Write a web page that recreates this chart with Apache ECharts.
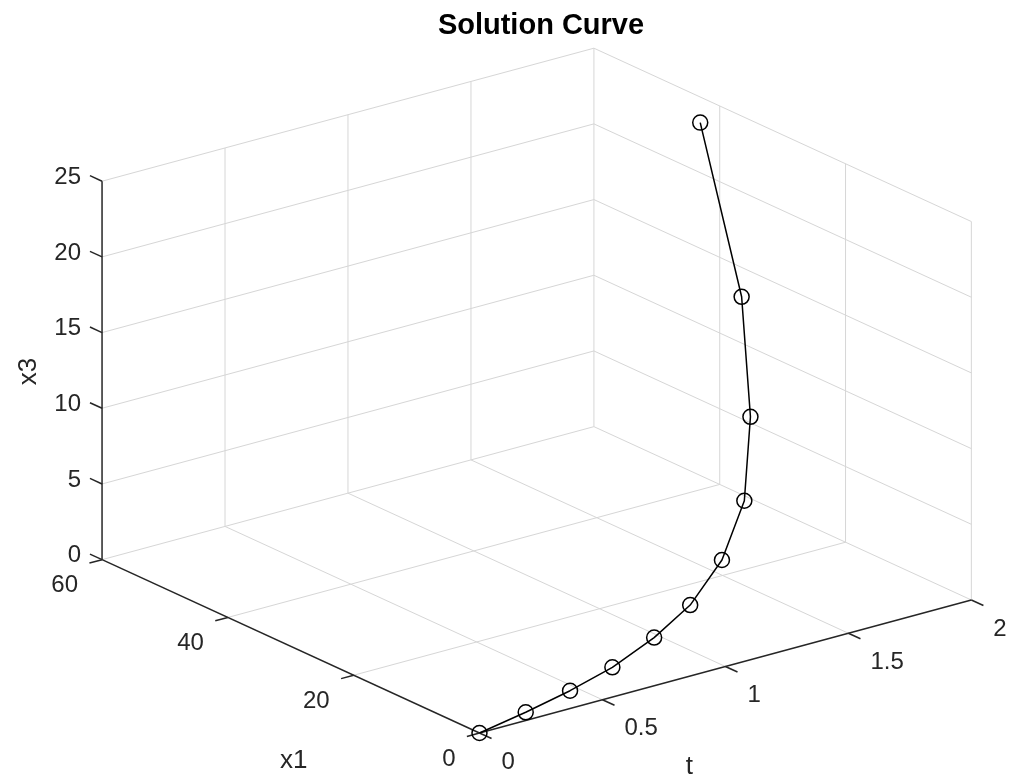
<!DOCTYPE html>
<html>
<head>
<meta charset="utf-8">
<script src="https://cdn.jsdelivr.net/npm/echarts@6/dist/echarts.min.js"></script>
<style>
  html, body { margin: 0; padding: 0; background: #fff; }
  #chart { width: 1013px; height: 784px; }
</style>
</head>
<body>
<div id="chart"></div>
<script>
// ---------------- data ----------------
const tValues  = [0, 0.2, 0.4, 0.6, 0.8, 1.0, 1.2, 1.4, 1.6, 1.8, 2.0];
const x1Values = [0, 0.47, 1.24, 2.33, 3.51, 5.6, 8.37, 12.63, 19.48, 28.7, 43.1];
const x3Values = [0, 0.40, 0.80, 1.26, 2.12, 2.99, 4.56, 6.78, 10.14, 15.43, 23.31];

const tTicks  = [0, 0.5, 1, 1.5, 2];
const x1Ticks = [0, 20, 40, 60];
const x3Ticks = [0, 5, 10, 15, 20, 25];
const tTickLabels  = ['0', '0.5', '1', '1.5', '2'];
const x1TickLabels = ['0', '20', '40', '60'];
const x3TickLabels = ['0', '5', '10', '15', '20', '25'];

const tLim  = [0, 2];
const x1Lim = [0, 60];
const x3Lim = [0, 25];

// ---------------- view (MATLAB-like orthographic 3D view) ----------------
const W = 1013, H = 784;
const VIEW = { az: -37.5, el: 30, cx: 536.7, cy: 390.6, sH: 620, sV: 437 };
const AZ = VIEW.az * Math.PI / 180, EL = VIEW.el * Math.PI / 180;

function proj(t, x1, x3) {
  const u = (t - tLim[0]) / (tLim[1] - tLim[0]) - 0.5;
  const v = (x1 - x1Lim[0]) / (x1Lim[1] - x1Lim[0]) - 0.5;
  const w = (x3 - x3Lim[0]) / (x3Lim[1] - x3Lim[0]) - 0.5;
  const px = Math.cos(AZ) * u + Math.sin(AZ) * v;
  const py = Math.sin(EL) * (-Math.sin(AZ) * u + Math.cos(AZ) * v) + Math.cos(EL) * w;
  return [px, py];
}

const FONT = "'Liberation Sans', Arial, Helvetica, sans-serif";
const GRID_COLOR = '#d6d6d6';
const AXIS_COLOR = '#262626';

// ---------------- build segments ----------------
const gridSegs = [];
// floor (x3 = min)
tTicks.forEach(t => { if (t !== tLim[0]) gridSegs.push([[t, x1Lim[0], x3Lim[0]], [t, x1Lim[1], x3Lim[0]]]); });
x1Ticks.forEach(x => { if (x !== x1Lim[0]) gridSegs.push([[tLim[0], x, x3Lim[0]], [tLim[1], x, x3Lim[0]]]); });
// back-left wall (x1 = max)
tTicks.forEach(t => { if (t !== tLim[0]) gridSegs.push([[t, x1Lim[1], x3Lim[0]], [t, x1Lim[1], x3Lim[1]]]); });
x3Ticks.forEach(z => { if (z !== x3Lim[0]) gridSegs.push([[tLim[0], x1Lim[1], z], [tLim[1], x1Lim[1], z]]); });
// back-right wall (t = max)
x1Ticks.forEach(x => { if (x !== x1Lim[1]) gridSegs.push([[tLim[1], x, x3Lim[0]], [tLim[1], x, x3Lim[1]]]); });
x3Ticks.forEach(z => { if (z !== x3Lim[0]) gridSegs.push([[tLim[1], x1Lim[0], z], [tLim[1], x1Lim[1], z]]); });

const axisSegs = [
  [[tLim[0], x1Lim[0], x3Lim[0]], [tLim[1], x1Lim[0], x3Lim[0]]],
  [[tLim[0], x1Lim[0], x3Lim[0]], [tLim[0], x1Lim[1], x3Lim[0]]],
  [[tLim[0], x1Lim[1], x3Lim[0]], [tLim[0], x1Lim[1], x3Lim[1]]]
];
const TICK_FRAC = 0.032;
const dT = (tLim[1] - tLim[0]) * TICK_FRAC * 0.8;
const dX1 = (x1Lim[1] - x1Lim[0]) * TICK_FRAC;
tTicks.forEach(t => axisSegs.push([[t, x1Lim[0], x3Lim[0]], [t, x1Lim[0] - dX1, x3Lim[0]]]));
x1Ticks.forEach(x => axisSegs.push([[tLim[0], x, x3Lim[0]], [tLim[0] - dT, x, x3Lim[0]]]));
x3Ticks.forEach(z => axisSegs.push([[tLim[0], x1Lim[1], z], [tLim[0], x1Lim[1] + dX1, z]]));

// ---------------- labels ----------------
const labels = [];
tTicks.forEach((t, i) => labels.push({ p: [t, x1Lim[0], x3Lim[0]], text: tTickLabels[i], dx: 22, dy: 29, align: 'left', size: 24 }));
x1Ticks.forEach((x, i) => labels.push({ p: [tLim[0], x, x3Lim[0]], text: x1TickLabels[i], dx: -24, dy: 26, align: 'right', size: 24 }));
x3Ticks.forEach((z, i) => labels.push({ p: [tLim[0], x1Lim[1], z], text: x3TickLabels[i], dx: -21, dy: -4, align: 'right', size: 24 }));
labels.push({ p: [(tLim[0] + tLim[1]) / 2, x1Lim[0], x3Lim[0]], text: 't', dx: -36, dy: 100, align: 'center', size: 26 });
labels.push({ p: [tLim[0], (x1Lim[0] + x1Lim[1]) / 2, x3Lim[0]], text: 'x1', dx: 3, dy: 114, align: 'center', size: 26 });
labels.push({ p: [tLim[0], x1Lim[1], (x3Lim[0] + x3Lim[1]) / 2], text: 'x3', dx: -73, dy: 1, align: 'center', size: 26, rotate: true });

function segSeries(segs, color, width, z) {
  return {
    type: 'custom',
    coordinateSystem: 'cartesian2d',
    silent: true,
    z: z,
    data: segs.map(s => [s[0][0], s[0][1], s[0][2], s[1][0], s[1][1], s[1][2]]),
    renderItem: function (params, api) {
      const a = api.coord(proj(api.value(0), api.value(1), api.value(2)));
      const b = api.coord(proj(api.value(3), api.value(4), api.value(5)));
      return { type: 'line', shape: { x1: a[0], y1: a[1], x2: b[0], y2: b[1] },
               style: { stroke: color, lineWidth: width } };
    }
  };
}

const titleText = 'Solution Curve';
const TITLE_SIZE = 29;
const ctx = document.createElement('canvas').getContext('2d');
ctx.font = 'bold ' + TITLE_SIZE + 'px ' + FONT;
const titleW = ctx.measureText(titleText).width;

const option = {
  backgroundColor: '#ffffff',
  animation: false,
  title: {
    text: titleText,
    left: 536 - titleW / 2,
    top: 6,
    textStyle: { fontFamily: FONT, fontSize: TITLE_SIZE, fontWeight: 'bold', color: '#000' }
  },
  grid: { left: 0, right: 0, top: 0, bottom: 0 },
  xAxis: { type: 'value', show: false, min: -VIEW.cx / VIEW.sH, max: (W - VIEW.cx) / VIEW.sH },
  yAxis: { type: 'value', show: false, min: -(H - VIEW.cy) / VIEW.sV, max: VIEW.cy / VIEW.sV },
  series: [
    segSeries(gridSegs, GRID_COLOR, 1, 1),
    segSeries(axisSegs, AXIS_COLOR, 1.5, 2),
    {
      type: 'line',
      z: 3,
      silent: true,
      data: tValues.map((t, i) => proj(t, x1Values[i], x3Values[i])),
      lineStyle: { color: '#000', width: 1.5 },
      symbol: 'circle',
      symbolSize: 15,
      showAllSymbol: true,
      itemStyle: { color: 'rgba(0,0,0,0)', borderColor: '#000', borderWidth: 1.5 }
    },
    {
      type: 'custom',
      coordinateSystem: 'cartesian2d',
      silent: true,
      z: 4,
      data: labels.map(l => [l.p[0], l.p[1], l.p[2]]),
      renderItem: function (params, api) {
        const l = labels[params.dataIndex];
        const c = api.coord(proj(api.value(0), api.value(1), api.value(2)));
        return {
          type: 'text',
          x: c[0] + l.dx, y: c[1] + l.dy,
          rotation: l.rotate ? Math.PI / 2 : 0,
          style: { text: l.text, fill: AXIS_COLOR, fontFamily: FONT, fontSize: l.size,
                   align: l.align, verticalAlign: 'middle' }
        };
      }
    }
  ]
};

const chart = echarts.init(document.getElementById('chart'), null, { renderer: 'canvas' });
chart.setOption(option);
</script>
</body>
</html>
